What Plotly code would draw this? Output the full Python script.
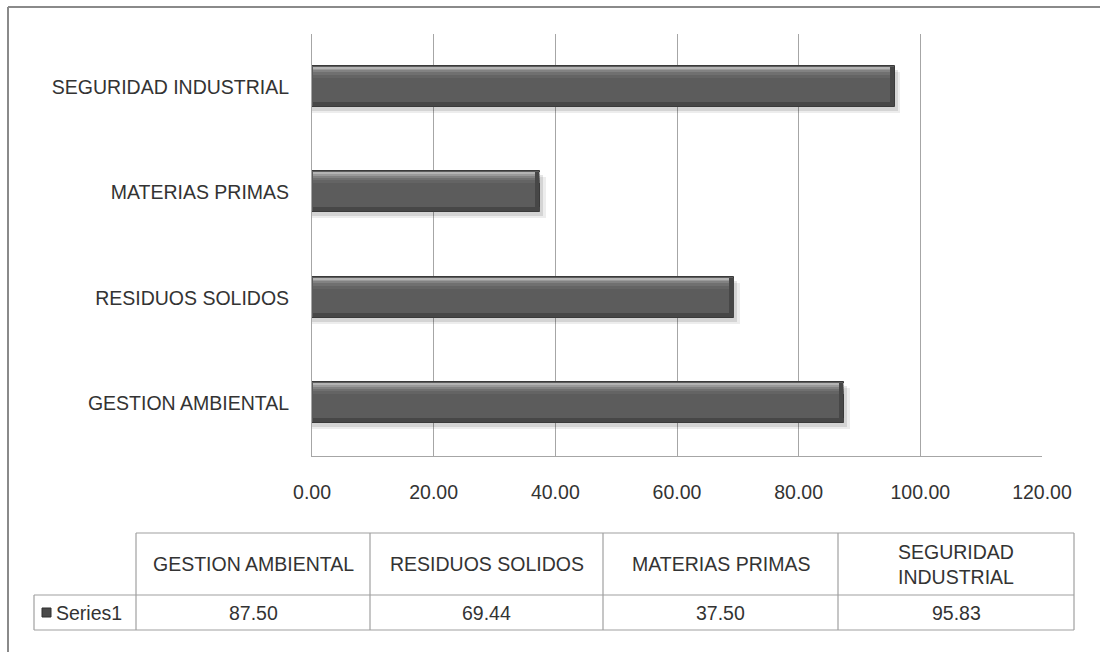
import plotly.graph_objects as go

# Evaluation scores per area (%)
categories = ["GESTION AMBIENTAL", "RESIDUOS SOLIDOS", "MATERIAS PRIMAS", "SEGURIDAD INDUSTRIAL"]
table_headers = ["GESTION AMBIENTAL", "RESIDUOS SOLIDOS", "MATERIAS PRIMAS", "SEGURIDAD<br>INDUSTRIAL"]
values = [87.50, 69.44, 37.50, 95.83]
series_name = "Series1"
x_ticks = [0, 20, 40, 60, 80, 100, 120]

W, H = 1100, 652
FONT = "Liberation Sans, Arial, sans-serif"
TXT = "#333333"
GRID = "#a6a6a6"
FS = 19.5


def px(x):
    return x / W


def py(y):
    return 1 - y / H


BAR_W = 0.39          # bar thickness in category units
BAR_OFF = -0.19       # bar starts a bit below the category centre
UNIT = 105.5          # pixels per category step
n = len(categories)

fig = go.Figure()

# soft drop shadow under each bar
for extra, drop, alpha in [(0.9, 6, 0.07), (0.5, 4, 0.10)]:
    fig.add_trace(go.Bar(
        y=categories, x=[v + extra for v in values], orientation="h",
        width=[BAR_W] * n, offset=[BAR_OFF - drop / UNIT] * n,
        marker=dict(color=f"rgba(0,0,0,{alpha})", line=dict(width=0)),
        hoverinfo="skip", showlegend=False))

# main bar body
fig.add_trace(go.Bar(
    y=categories, x=values, orientation="h", name=series_name,
    width=[BAR_W] * n, offset=[BAR_OFF] * n,
    marker=dict(color="#5c5c5c", line=dict(color="#3a3a3a", width=1)),
    showlegend=False))

# bevel: light strips along the top edge, darker strip at the bottom
top = BAR_OFF + BAR_W
for h, col in [(11, "#646464"), (8, "#707070"), (5.5, "#828282"), (3.5, "#9a9a9a"), (1.5, "#b4b4b4")]:
    fig.add_trace(go.Bar(
        y=categories, x=[v - 0.25 for v in values], base=[0.15] * n, orientation="h",
        width=[h / UNIT] * n, offset=[top - h / UNIT - 1 / UNIT] * n,
        marker=dict(color=col, line=dict(width=0)),
        hoverinfo="skip", showlegend=False))
fig.add_trace(go.Bar(
    y=categories, x=[v - 0.25 for v in values], base=[0.15] * n, orientation="h",
    width=[4 / UNIT] * n, offset=[BAR_OFF + 1 / UNIT] * n,
    marker=dict(color="#474747", line=dict(width=0)),
    hoverinfo="skip", showlegend=False))
# darker bevel at the right end
fig.add_trace(go.Bar(
    y=categories, x=[0.7] * n, base=[v - 0.85 for v in values], orientation="h",
    width=[BAR_W - 2 / UNIT] * n, offset=[BAR_OFF + 1 / UNIT] * n,
    marker=dict(color="#474747", line=dict(width=0)),
    hoverinfo="skip", showlegend=False))

shapes = []
annotations = []

# outer chart frame (top and left edges)
shapes.append(dict(type="line", xref="paper", yref="paper",
                   x0=px(8), x1=px(1100), y0=py(7), y1=py(7),
                   line=dict(color="#8a8a8a", width=2)))
shapes.append(dict(type="line", xref="paper", yref="paper",
                   x0=px(8), x1=px(8), y0=py(7), y1=py(652),
                   line=dict(color="#8a8a8a", width=2)))

# data table under the chart
col_x = [136, 370, 603, 838, 1074]
row_top, row_mid, row_bot = 533, 595, 630
series_left = 34
tline = dict(color="#a0a0a0", width=1.2)


def hline(x0, x1, y):
    shapes.append(dict(type="line", xref="paper", yref="paper",
                       x0=px(x0), x1=px(x1), y0=py(y), y1=py(y), line=tline))


def vline(x, y0, y1):
    shapes.append(dict(type="line", xref="paper", yref="paper",
                       x0=px(x), x1=px(x), y0=py(y0), y1=py(y1), line=tline))


hline(col_x[0], col_x[-1], row_top)
hline(series_left, col_x[-1], row_mid)
hline(series_left, col_x[-1], row_bot)
for cx in col_x:
    vline(cx, row_top, row_bot)
vline(series_left, row_mid, row_bot)

for i, (hdr, val) in enumerate(zip(table_headers, values)):
    cx = (col_x[i] + col_x[i + 1]) / 2
    annotations.append(dict(x=px(cx), y=py((row_top + row_mid) / 2), xref="paper", yref="paper",
                            text=hdr, showarrow=False, xanchor="center", yanchor="middle",
                            font=dict(family=FONT, size=FS, color=TXT)))
    annotations.append(dict(x=px(cx), y=py((row_mid + row_bot) / 2), xref="paper", yref="paper",
                            text=f"{val:.2f}", showarrow=False, xanchor="center", yanchor="middle",
                            font=dict(family=FONT, size=FS, color=TXT)))

# legend key + series name
shapes.append(dict(type="rect", xref="paper", yref="paper",
                   x0=px(42), x1=px(51), y0=py(617), y1=py(608),
                   fillcolor="#4a4a4a", line=dict(color="#2e2e2e", width=1)))
annotations.append(dict(x=px(54), y=py((row_mid + row_bot) / 2), xref="paper", yref="paper",
                        text=series_name, showarrow=False, xanchor="left", yanchor="middle",
                        font=dict(family=FONT, size=FS, color=TXT)))

fig.update_layout(
    width=W, height=H,
    margin=dict(l=0, r=0, t=0, b=0, autoexpand=False),
    paper_bgcolor="white", plot_bgcolor="white",
    barmode="overlay", bargap=0,
    shapes=shapes, annotations=annotations,
    font=dict(family=FONT, size=FS, color=TXT),
    xaxis=dict(domain=[px(312), px(1042)], range=[0, 120], automargin=False,
               tickvals=x_ticks, tickformat=".2f",
               showgrid=True, gridcolor=GRID, gridwidth=1,
               showline=True, linecolor=GRID, linewidth=1,
               zeroline=False, ticks="", ticklabelstandoff=19,
               tickfont=dict(family=FONT, size=FS, color=TXT), fixedrange=True),
    yaxis=dict(domain=[py(456), py(34)], type="category", automargin=False,
               categoryorder="array", categoryarray=categories,
               range=[-0.5, n - 0.5],
               showgrid=False, showline=True, linecolor=GRID, linewidth=1,
               ticks="", ticklabelstandoff=18,
               tickfont=dict(family=FONT, size=FS, color=TXT), fixedrange=True),
)

fig.write_html("out.html")
